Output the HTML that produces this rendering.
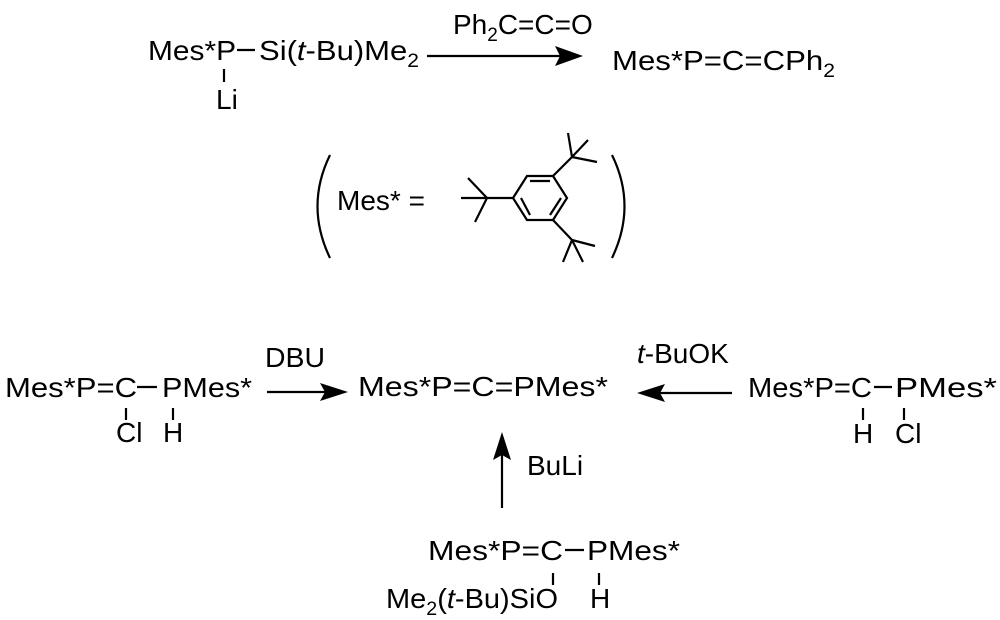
<!DOCTYPE html>
<html><head><meta charset="utf-8"><style>
html,body{margin:0;padding:0;background:#fff;}
svg{display:block;}
text{font-family:"Liberation Sans",Arial,sans-serif;font-size:28px;fill:#000;}
.s{font-size:19px;}
</style></head><body>
<svg width="1000" height="620" viewBox="0 0 1000 620" xmlns="http://www.w3.org/2000/svg">
<g stroke="#000" stroke-width="2.2" fill="none">
<!-- top -->
<line x1="237" y1="50" x2="255" y2="50"/>
<line x1="224" y1="69" x2="224" y2="82"/>
<line x1="427" y1="56" x2="560" y2="56"/>
<!-- ring -->
<polygon points="513,198 527,176 553,176 567,198 553,220 527,220"/>
<line x1="530" y1="181" x2="550" y2="181"/>
<line x1="561" y1="198" x2="550" y2="215"/>
<line x1="521" y1="198" x2="530" y2="215"/>
<line x1="513" y1="198" x2="487" y2="198"/>
<line x1="487" y1="198" x2="461" y2="198"/>
<line x1="487" y1="198" x2="468" y2="178"/>
<line x1="487" y1="198" x2="475" y2="222"/>
<line x1="553" y1="176" x2="572" y2="157"/>
<line x1="572" y1="157" x2="568" y2="133"/>
<line x1="572" y1="157" x2="588" y2="140"/>
<line x1="572" y1="157" x2="597" y2="162"/>
<line x1="553" y1="220" x2="572" y2="240"/>
<line x1="572" y1="240" x2="563" y2="262"/>
<line x1="572" y1="240" x2="583" y2="262"/>
<line x1="572" y1="240" x2="595" y2="246"/>
<path d="M330 155 Q305 206 330 258"/>
<path d="M612 155 Q637 206 612 258"/>
<!-- left mol -->
<line x1="137" y1="387" x2="157" y2="387"/>
<line x1="126" y1="408" x2="126" y2="420"/>
<line x1="173" y1="408" x2="173" y2="420"/>
<line x1="267" y1="392" x2="325" y2="392"/>
<!-- right -->
<line x1="660" y1="393" x2="732" y2="393"/>
<line x1="874" y1="387" x2="892" y2="387"/>
<line x1="863" y1="408" x2="863" y2="420"/>
<line x1="904" y1="408" x2="904" y2="420"/>
<!-- bottom -->
<line x1="502" y1="508" x2="502" y2="455"/>
<line x1="565" y1="550" x2="584" y2="550"/>
<line x1="553" y1="573" x2="553" y2="585"/>
<line x1="599" y1="573" x2="599" y2="585"/>
</g>
<g fill="#000">
<polygon points="583,56 555,46 560,56 555,66"/>
<polygon points="348,392 320,383 325,392 320,401"/>
<polygon points="637,393 665,384 660,393 665,402"/>
<polygon points="502,432 493,460 502,455 511,460"/>
</g>
<!-- texts -->
<text x="148" y="60" textLength="88" lengthAdjust="spacingAndGlyphs">Mes*P</text>
<text x="259" y="60" textLength="160" lengthAdjust="spacingAndGlyphs">Si(<tspan font-style="italic">t</tspan>-Bu)Me<tspan class="s" dy="7">2</tspan></text>
<text x="216" y="109">Li</text>
<text x="453" y="34">Ph<tspan class="s" dy="7">2</tspan><tspan dy="-7">C=C=O</tspan></text>
<text x="612" y="70" textLength="223" lengthAdjust="spacingAndGlyphs">Mes*P=C=CPh<tspan class="s" dy="7">2</tspan></text>
<text x="337" y="210">Mes* =</text>

<text x="5" y="397" textLength="132" lengthAdjust="spacingAndGlyphs">Mes*P=C</text>
<text x="162" y="397" textLength="90" lengthAdjust="spacingAndGlyphs">PMes*</text>
<text x="116" y="442">Cl</text>
<text x="163" y="442">H</text>
<text x="265" y="367" textLength="60" lengthAdjust="spacingAndGlyphs">DBU</text>

<text x="358" y="396" textLength="250" lengthAdjust="spacingAndGlyphs">Mes*P=C=PMes*</text>
<text x="637" y="363"><tspan font-style="italic">t</tspan>-BuOK</text>

<text x="748" y="397" textLength="124" lengthAdjust="spacingAndGlyphs">Mes*P=C</text>
<text x="895" y="397" textLength="102" lengthAdjust="spacingAndGlyphs">PMes*</text>
<text x="853" y="443">H</text>
<text x="895" y="443">Cl</text>

<text x="527" y="475">BuLi</text>
<text x="428" y="560" textLength="135" lengthAdjust="spacingAndGlyphs">Mes*P=C</text>
<text x="587" y="560" textLength="93" lengthAdjust="spacingAndGlyphs">PMes*</text>
<text x="386" y="608" textLength="172" lengthAdjust="spacingAndGlyphs">Me<tspan class="s" dy="7">2</tspan><tspan dy="-7">(</tspan><tspan font-style="italic">t</tspan>-Bu)SiO</text>
<text x="590" y="608">H</text>
</svg>
</body></html>
